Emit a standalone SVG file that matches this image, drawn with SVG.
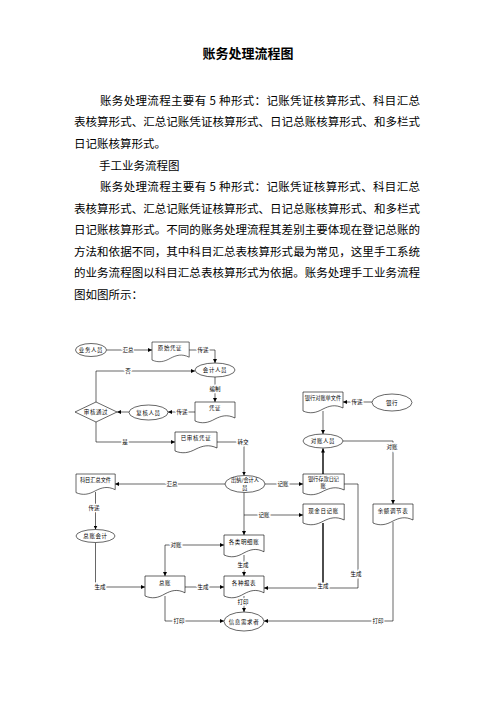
<svg xmlns="http://www.w3.org/2000/svg" width="496" height="702" viewBox="0 0 496 702">
<style>
.body{font-family:"Noto Sans CJK SC","Noto Sans",sans-serif;font-size:11.5px;fill:#000}
.title{font-family:"Noto Sans CJK SC","Noto Sans",sans-serif;font-size:13px;font-weight:bold;fill:#000}
.n{fill:#fff;stroke:#000;stroke-width:0.6}
.t{font-family:"Noto Sans CJK SC","Noto Sans",sans-serif;font-size:5.5px;fill:#000;text-anchor:middle;letter-spacing:0.6px}
.tight{letter-spacing:0px;font-size:5.2px}
.c{fill:none;stroke:#000;stroke-width:0.6}
.thick{stroke-width:1.4}
.l{font-family:"Noto Sans CJK SC","Noto Sans",sans-serif;font-size:5.5px;fill:#000;text-anchor:middle;stroke:#fff;stroke-width:2.5px;paint-order:stroke;dominant-baseline:central}
</style>
<defs>
<marker id="a" viewBox="0 0 6 6" refX="6" refY="3" markerWidth="4" markerHeight="4" markerUnits="userSpaceOnUse" orient="auto-start-reverse">
<path d="M0,0 L6,3 L0,6 Z" fill="#000"/>
</marker>
<path id="doc" d="M0,0 H40 V16 C32,12 26,14 20,17 C13,21 7,22 0,19 Z"/>
</defs>
<rect width="496" height="702" fill="#fff"/>

<text class="title" x="248" y="58" text-anchor="middle">账务处理流程图</text>
<text class="body" x="100" y="104.5" textLength="320" lengthAdjust="spacing">账务处理流程主要有 5 种形式：记账凭证核算形式、科目汇总</text>
<text class="body" x="74" y="126" textLength="346" lengthAdjust="spacing">表核算形式、汇总记账凭证核算形式、日记总账核算形式、和多栏式</text>
<text class="body" x="74" y="147.5">日记账核算形式。</text>
<text class="body" x="99" y="169.5">手工业务流程图</text>
<text class="body" x="100" y="191" textLength="320" lengthAdjust="spacing">账务处理流程主要有 5 种形式：记账凭证核算形式、科目汇总</text>
<text class="body" x="74" y="212.5" textLength="346" lengthAdjust="spacing">表核算形式、汇总记账凭证核算形式、日记总账核算形式、和多栏式</text>
<text class="body" x="74" y="234" textLength="346" lengthAdjust="spacing">日记账核算形式。不同的账务处理流程其差别主要体现在登记总账的</text>
<text class="body" x="74" y="255.5" textLength="346" lengthAdjust="spacing">方法和依据不同，其中科目汇总表核算形式最为常见，这里手工系统</text>
<text class="body" x="74" y="277" textLength="346" lengthAdjust="spacing">的业务流程图以科目汇总表核算形式为依据。账务处理手工业务流程</text>
<text class="body" x="74" y="298.5">图如图所示：</text>

<g id="connectors">
<path class="c" d="M106.5,350 H152" marker-end="url(#a)"/>
<path class="c" d="M189,350 H215 V363" marker-end="url(#a)"/>
<path class="c" d="M215,377 V402" marker-end="url(#a)"/>
<path class="c" d="M195,412 H168" marker-end="url(#a)"/>
<path class="c" d="M129,412 H117" marker-end="url(#a)"/>
<path class="c" d="M96,402 V371 H195" marker-end="url(#a)"/>
<path class="c" d="M96,422 V442 H175" marker-end="url(#a)"/>
<path class="c" d="M217,442 H244 V475.5" marker-end="url(#a)"/>
<path class="c" d="M225,484 H115" marker-end="url(#a)"/>
<path class="c" d="M95.5,492 V529.5" marker-end="url(#a)"/>
<path class="c" d="M95.5,542.5 V587 H145" marker-end="url(#a)"/>
<path class="c" d="M265,484 H303" marker-end="url(#a)"/>
<path class="c" d="M244,515 H303" marker-end="url(#a)"/>
<path class="c" d="M244,492.5 V535" marker-end="url(#a)"/>
<path class="c" d="M165,576 V545 H224" marker-start="url(#a)" marker-end="url(#a)"/>
<path class="c" d="M185,587 H224" marker-end="url(#a)"/>
<path class="c" d="M244,555 V576" marker-end="url(#a)"/>
<path class="c" d="M244,596 V612" marker-end="url(#a)"/>
<path class="c" d="M165,596 V621 H224" marker-end="url(#a)"/>
<path class="c" d="M372,402 H343" marker-end="url(#a)"/>
<path class="c" d="M323,411 V434" marker-end="url(#a)"/>
<path class="c thick" d="M323,474 V448.5" marker-end="url(#a)"/>
<path class="c" d="M343,441 H393 V504" marker-end="url(#a)"/>
<path class="c" d="M393,522 V621 H264" marker-end="url(#a)"/>
<path class="c" d="M344,484 H358 V588 H264" marker-end="url(#a)"/>
<path class="c thick" d="M323,523 V588"/>
<text class="l" x="128" y="350">汇总</text>
<text class="l" x="203" y="350">传递</text>
<text class="l" x="215" y="389">编制</text>
<text class="l" x="182" y="412">传递</text>
<text class="l" x="128" y="371">否</text>
<text class="l" x="125" y="442">是</text>
<text class="l" x="243" y="442">转交</text>
<text class="l" x="172" y="484">汇总</text>
<text class="l" x="94" y="508">传递</text>
<text class="l" x="100" y="587">生成</text>
<text class="l" x="283" y="484">记账</text>
<text class="l" x="264" y="515">记账</text>
<text class="l" x="176" y="545">对账</text>
<text class="l" x="203" y="587">生成</text>
<text class="l" x="243" y="565">生成</text>
<text class="l" x="243" y="602">打印</text>
<text class="l" x="179" y="621">打印</text>
<text class="l" x="357" y="402">传递</text>
<text class="l" x="392" y="447">对账</text>
<text class="l" x="378" y="621">打印</text>
<text class="l" x="356" y="574">生成</text>
<text class="l" x="323" y="586">生成</text>
</g>

<g id="n1"><ellipse class="n" cx="91" cy="350" rx="15.5" ry="6.5"/><text class="t" x="91" y="352">业务人员</text></g>
<g id="n2"><use href="#doc" class="n" transform="translate(152,342) scale(0.93,0.95)"/><text class="t" x="170" y="350">原始凭证</text></g>
<g id="n3"><ellipse class="n" cx="215" cy="370" rx="20" ry="7"/><text class="t" x="215" y="372">会计人员</text></g>
<g id="n4"><use href="#doc" class="n" transform="translate(195,402)"/><text class="t" x="215" y="410">凭证</text></g>
<g id="n5"><ellipse class="n" cx="148.5" cy="412.5" rx="19.5" ry="7.5"/><text class="t" x="148.5" y="414.5">复核人员</text></g>
<g id="n6"><polygon class="n" points="75,412 96,402 117,412 96,422"/><text class="t" x="96" y="414">审核通过</text></g>
<g id="n7"><use href="#doc" class="n" transform="translate(175,432) scale(1.05,1)"/><text class="t" x="196" y="440">已审核凭证</text></g>
<g id="n8"><ellipse class="n" cx="245" cy="484" rx="20" ry="8.5"/><text class="t tight" x="245" y="482">出纳/会计人</text><text class="t" x="245" y="489.5">员</text></g>
<g id="n9"><use href="#doc" class="n" transform="translate(76,474) scale(0.98,0.98)"/><text class="t tight" x="95.5" y="482">科目汇总文件</text></g>
<g id="n10"><ellipse class="n" cx="95.5" cy="536" rx="19.5" ry="6.5"/><text class="t" x="95.5" y="538">总账会计</text></g>
<g id="n11"><use href="#doc" class="n" transform="translate(224,535) scale(1,1.05)"/><text class="t" x="244" y="544">各类明细账</text></g>
<g id="n12"><use href="#doc" class="n" transform="translate(145,576) scale(1,1.05)"/><text class="t" x="165" y="585">总账</text></g>
<g id="n13"><use href="#doc" class="n" transform="translate(224,576) scale(1,1.05)"/><text class="t" x="244" y="585">各种报表</text></g>
<g id="n14"><ellipse class="n" cx="244" cy="621.5" rx="20" ry="9.5"/><text class="t" x="244" y="623.5">信息需求者</text></g>
<g id="n15"><use href="#doc" class="n" transform="translate(303,392)"/><text class="t tight" x="323" y="400">银行对账单文件</text></g>
<g id="n16"><ellipse class="n" cx="392" cy="402.5" rx="20" ry="8.5"/><text class="t" x="392" y="404.5">银行</text></g>
<g id="n17"><ellipse class="n" cx="323" cy="441" rx="20" ry="7"/><text class="t" x="323" y="443">对账人员</text></g>
<g id="n18"><use href="#doc" class="n" transform="translate(303,474) scale(1.03,1)"/><text class="t tight" x="323.5" y="480.5">银行存款日记</text><text class="t" x="323.5" y="488">账</text></g>
<g id="n19"><use href="#doc" class="n" transform="translate(303,504) scale(1.03,1)"/><text class="t" x="323.5" y="513">现金日记账</text></g>
<g id="n20"><use href="#doc" class="n" transform="translate(373,504)"/><text class="t" x="393" y="513">余额调节表</text></g>
</svg>
